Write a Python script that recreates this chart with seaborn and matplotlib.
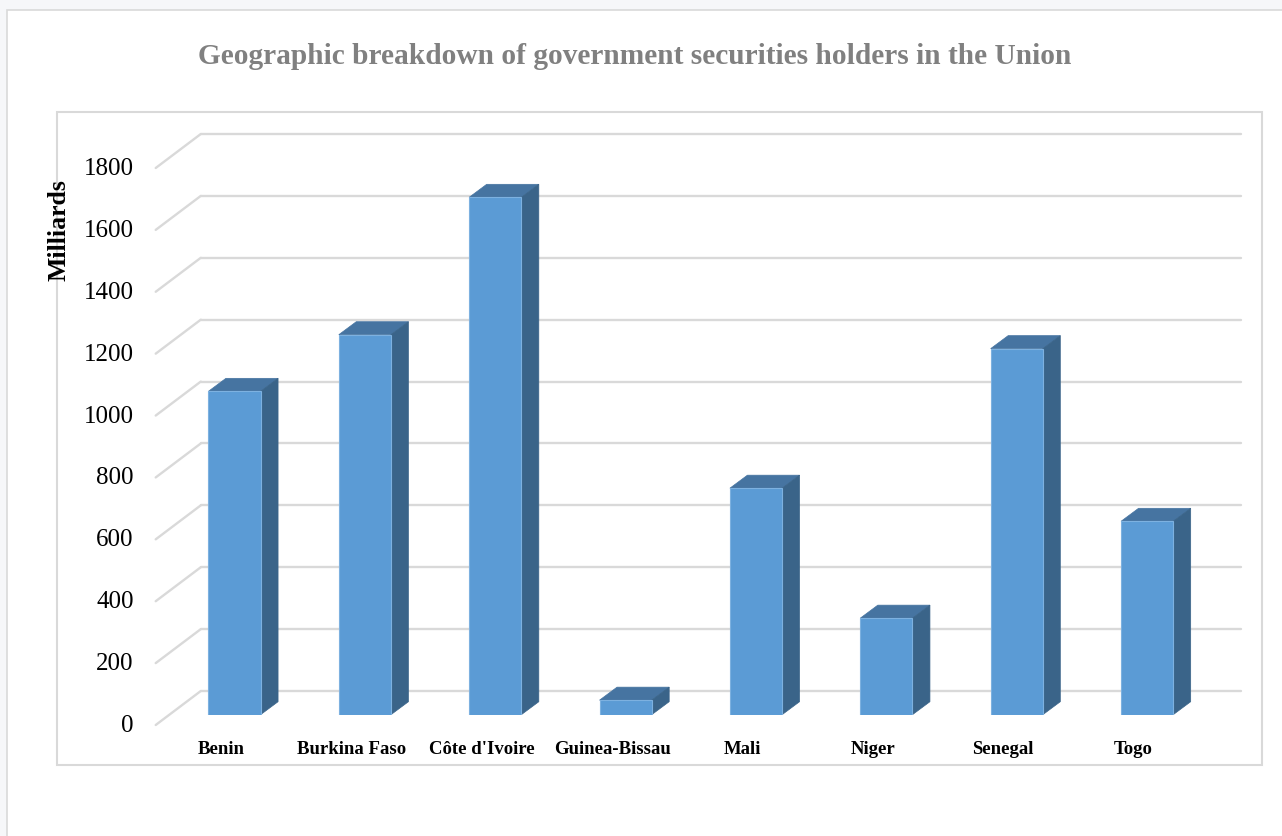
import matplotlib
matplotlib.use("Agg")
import matplotlib.pyplot as plt
import matplotlib.transforms as mtransforms
from matplotlib.patches import Polygon, Rectangle
from matplotlib.lines import Line2D
import pandas as pd
import seaborn as sns

# data
countries = ["Benin", "Burkina Faso", "Côte d'Ivoire", "Guinea-Bissau",
             "Mali", "Niger", "Senegal", "Togo"]
holdings = [1045, 1228, 1672, 47, 732, 312, 1183, 625]
y_ticks = [0, 200, 400, 600, 800, 1000, 1200, 1400, 1600, 1800]
title = "Geographic breakdown of government securities holders in the Union"
y_label = "Milliards"

FRONT = "#5B9BD5"
TOP = "#4674A1"
SIDE = "#3A6489"
GRID = "#D9D9D9"

# fake 3D offsets in pixels (relative to the plane of the bar fronts)
FRONT_OFF = (-13.6, -10.3)
BACK_OFF = (29.0, 23.7)
DEPTH = (17.5, 13.0)

sns.set_theme(style="white")
plt.rcParams['font.family'] = ['Liberation Serif', 'DejaVu Serif']

W, H = 1282, 837
fig = plt.figure(figsize=(W / 100, H / 100), dpi=100)
fig.patch.set_facecolor("#F6F7F9")

# chart area and plot area frames
fig.add_artist(Rectangle((7 / W, -0.01), 1, 1.01 - 11 / H, transform=fig.transFigure,
                         facecolor="white", edgecolor=GRID, lw=1.2, zorder=0))
fig.add_artist(Rectangle((57 / W, 1 - 766 / H), (1262 - 57) / W, (766 - 113) / H,
                         transform=fig.transFigure, fill=False,
                         edgecolor=GRID, lw=1.5, zorder=1))

ax = fig.add_axes([169.3 / W, 1 - 715.7 / H, 1043 / W, 557 / H])
ax.patch.set_alpha(0)
df = pd.DataFrame({"country": countries, "value": holdings})
sns.barplot(data=df, x="country", y="value", color=FRONT, saturation=1,
            width=0.4, edgecolor="#7DB1E0", linewidth=0.8, ax=ax, zorder=4)
ax.set_xlim(-0.5, len(countries) - 0.5)
ax.set_ylim(0, max(y_ticks))
ax.axis("off")


def shifted(dx, dy):
    return ax.transData + mtransforms.Affine2D().translate(dx, dy)


ident = mtransforms.IdentityTransform()
x_left, x_right = ax.get_xlim()

# back wall gridlines + side wall diagonals
for t in y_ticks:
    px, py = ax.transData.transform((x_left, t))
    ax.add_line(Line2D([px + 31.5, ax.transData.transform((x_right, t))[0] + BACK_OFF[0]],
                       [py + BACK_OFF[1], py + BACK_OFF[1]],
                       transform=ident, color=GRID, lw=1.7, clip_on=False, zorder=1))
    ax.add_line(Line2D([px + FRONT_OFF[0], px + 31.5],
                       [py + FRONT_OFF[1], py + BACK_OFF[1]],
                       transform=ident, color=GRID, lw=1.7, clip_on=False, zorder=1))
    ax.text(x_left, t, str(t), transform=shifted(FRONT_OFF[0] - 22, FRONT_OFF[1]),
            ha="right", va="center", fontsize=18, color="black")

# top and side faces of the columns
dx, dy = DEPTH
for bar in ax.patches[:len(countries)]:
    x0 = bar.get_x()
    x1 = x0 + bar.get_width()
    X0, Y0 = ax.transData.transform((x0, 0))
    X1, Y1 = ax.transData.transform((x1, bar.get_height()))
    top = [(X0, Y1), (X1, Y1), (X1 + dx, Y1 + dy), (X0 + dx, Y1 + dy)]
    side = [(X1, Y0), (X1, Y1), (X1 + dx, Y1 + dy), (X1 + dx, Y0 + dy)]
    ax.add_patch(Polygon(top, closed=True, transform=ident, facecolor=TOP,
                         edgecolor=TOP, lw=0.5, clip_on=False, zorder=3))
    ax.add_patch(Polygon(side, closed=True, transform=ident, facecolor=SIDE,
                         edgecolor=SIDE, lw=0.5, clip_on=False, zorder=3))

# category labels on the front edge of the floor
for i, name in enumerate(countries):
    ax.text(i, 0, name, transform=shifted(FRONT_OFF[0], FRONT_OFF[1] - 24),
            ha="center", va="center", fontsize=13.5, fontweight="bold", color="black")

fig.text(59 / W, 1 - 230 / H, y_label, rotation=90, ha="center", va="center",
         fontsize=18.5, fontweight="bold", color="black")
fig.text(635 / W, 1 - 57 / H, title, ha="center", va="center",
         fontsize=21.2, fontweight="bold", color="#808080")

fig.savefig("out.png", dpi=100)
